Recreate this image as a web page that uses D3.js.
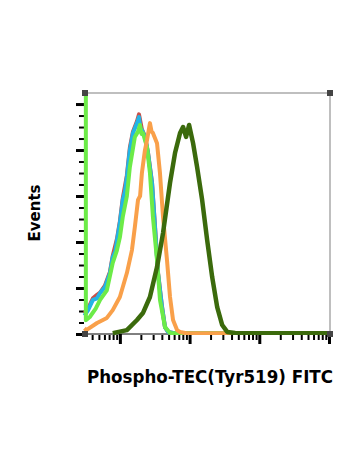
<!DOCTYPE html>
<html>
<head>
<script src="https://d3js.org/d3.v7.min.js"></script>
<style>
  body { margin: 0; background: #fff; }
  svg { display: block; }
</style>
</head>
<body>
<svg id="chart" width="350" height="467"></svg>
<script>
// fluorescence (x) and event count (y, % of max)
var redSeries = [[31,9],[35,11],[41,15.5],[47,17],[52,18],[61,21],[72,27],[79,34],[91,41.5],[100,49],[110,59],[126,69],[139,81],[154,88],[176,92.5],[188,95.5],[207,89],[229,86],[253,79],[289,66],[319,47],[352,27],[402,12],[444,3],[491,0.9],[600,0.3],[100000,0.3]];
var blueSeries = [[31,8],[35,10.4],[41,14.8],[47,15.5],[52,17.8],[61,20.4],[72,26.5],[79,33.5],[86,36],[91,40.9],[100,48.3],[110,58.3],[118,62],[126,68.3],[139,80],[154,87.4],[176,91.7],[188,94.3],[200,88],[207,88.7],[229,85.7],[253,78.7],[289,65.7],[319,46.5],[352,26.5],[402,11.7],[444,3],[491,0.9],[600,0.3],[100000,0.3]];
var lightGreenSeries = [[32.5,150],[32.5,6],[37,7.4],[45,11],[52,14.8],[65,19],[79,30.9],[90,36],[100,42],[110,50.9],[126,60],[139,72.6],[164,85.7],[182,88],[194,90.9],[205,87],[214,87.4],[245,81.3],[270,70],[298,50.9],[341,32.2],[376,14.8],[444,3],[524,0.4],[100000,0.3]];
var orangeSeries = [[31,2.5],[33,1.7],[47,4.8],[65,7],[79,10.4],[100,16.1],[126,26.5],[149,36.5],[164,46.5],[182,58.3],[195,60],[207,70],[229,80],[245,84.3],[270,91.7],[285,88],[298,87.4],[341,83],[376,70],[416,50.9],[474,32.2],[524,16.1],[579,6.1],[661,1.7],[730,0.9],[900,0.3],[100000,0.3]];
var darkGreenSeries = [[79,0.4],[126,1.7],[176,6.1],[214,9.1],[270,16.1],[341,29.1],[416,43.9],[524,65.7],[618,78.7],[730,87.4],[806,90],[891,85.7],[984,90.9],[1122,83],[1282,72.6],[1514,58.3],[1786,40.9],[2108,24.8],[2489,11.7],[2938,3.9],[3467,0.9],[4500,0.4],[100000,0.3]];

var seriesList = [redSeries, blueSeries, lightGreenSeries, orangeSeries, darkGreenSeries];
var seriesColors = ["#c8504a", "#22b4e6", "#6ceb48", "#f9a04a", "#3b6a0c"];
var seriesWidths = [4, 4, 4, 4, 4.5];

var yTicks = [0, 20, 40, 60, 80, 100];
var xDomain = [31.6, 100000];
var yDomain = [0, 104.8];

var plotL = 85, plotR = 330, plotT = 93, plotB = 334;

var svg = d3.select("#chart");

var x = d3.scaleLog().domain(xDomain).range([plotL, plotR - 1]);
var y = d3.scaleLinear().domain(yDomain).range([plotB, plotT]);

// frame (top and right only)
svg.append("line").attr("x1", plotL).attr("x2", plotR).attr("y1", plotT).attr("y2", plotT)
  .attr("stroke", "#aaa").attr("stroke-width", 1.5);
svg.append("line").attr("x1", plotR).attr("x2", plotR).attr("y1", plotT).attr("y2", plotB)
  .attr("stroke", "#aaa").attr("stroke-width", 1.5);

// y axis ticks
var yMinor = d3.range(0, 105, 5).filter(function(v){ return v % 20 != 0; });
var yAxisMajor = d3.axisLeft(y).tickValues(yTicks).tickSize(9).tickFormat("");
var yAxisMinor = d3.axisLeft(y).tickValues(yMinor).tickSize(5).tickFormat("");
svg.append("g").attr("transform", "translate(" + plotL + ",0)").call(yAxisMajor)
  .call(function(g){ g.select(".domain").remove(); g.selectAll("line").attr("stroke", "#000").attr("stroke-width", 3); });
svg.append("g").attr("transform", "translate(" + (plotL - 1) + ",0)").call(yAxisMinor)
  .call(function(g){ g.select(".domain").remove(); g.selectAll("line").attr("stroke", "#000").attr("stroke-width", 2); });

// x axis ticks (log decades + minors)
var decades = [100, 1000, 10000, 100000];
var xMinor = [];
[10, 100, 1000, 10000].forEach(function(d){
  for (var k = 2; k <= 9; k++) { if (d * k >= xDomain[0]) xMinor.push(d * k); }
});
var xAxisMajor = d3.axisBottom(x).tickValues(decades).tickSize(10).tickFormat("");
var xAxisMinor = d3.axisBottom(x).tickValues(xMinor).tickSize(5).tickFormat("");
svg.append("g").attr("transform", "translate(0," + plotB + ")").call(xAxisMajor)
  .call(function(g){ g.select(".domain").attr("stroke", "#000").attr("d", "M" + plotL + ",0H" + plotR); g.selectAll("line").attr("stroke", "#000").attr("stroke-width", 3); });
svg.append("g").attr("transform", "translate(0," + (plotB + 1) + ")").call(xAxisMinor)
  .call(function(g){ g.select(".domain").remove(); g.selectAll("line").attr("stroke", "#000").attr("stroke-width", 2); });

// curves
svg.append("clipPath").attr("id", "plotClip").append("rect")
  .attr("x", plotL - 3).attr("y", plotT).attr("width", plotR - plotL + 3).attr("height", plotB - plotT + 1);

var line = d3.line()
  .x(function(d){ return x(d[0]); })
  .y(function(d){ return y(d[1]); })
  .curve(d3.curveLinear);

svg.append("g").attr("clip-path", "url(#plotClip)")
  .selectAll("path")
  .data(seriesList)
  .enter()
  .append("path")
    .attr("d", line)
    .attr("fill", "none")
    .attr("stroke", function(d, i){ return seriesColors[i]; })
    .attr("stroke-width", function(d, i){ return seriesWidths[i]; })
    .attr("stroke-linejoin", "round");

// corner markers
var corners = [[plotL, plotT], [plotR, plotT], [plotR, plotB], [plotL, plotB]];
svg.selectAll(".corner").data(corners).enter().append("rect")
  .attr("class", "corner")
  .attr("x", function(d){ return d[0] - 3; })
  .attr("y", function(d){ return d[1] - 3; })
  .attr("width", 6).attr("height", 6)
  .attr("fill", "#444");

// labels
svg.append("text")
  .attr("transform", "translate(40,213) rotate(-90)")
  .attr("text-anchor", "middle")
  .style("font-family", "DejaVu Sans, sans-serif")
  .style("font-weight", "bold")
  .style("font-size", "15px")
  .text("Events");

svg.append("text")
  .attr("x", 87).attr("y", 383)
  .attr("textLength", 246)
  .attr("lengthAdjust", "spacingAndGlyphs")
  .style("font-family", "DejaVu Sans, sans-serif")
  .style("font-weight", "bold")
  .style("font-size", "17.5px")
  .text("Phospho-TEC(Tyr519) FITC");
</script>
</body>
</html>
